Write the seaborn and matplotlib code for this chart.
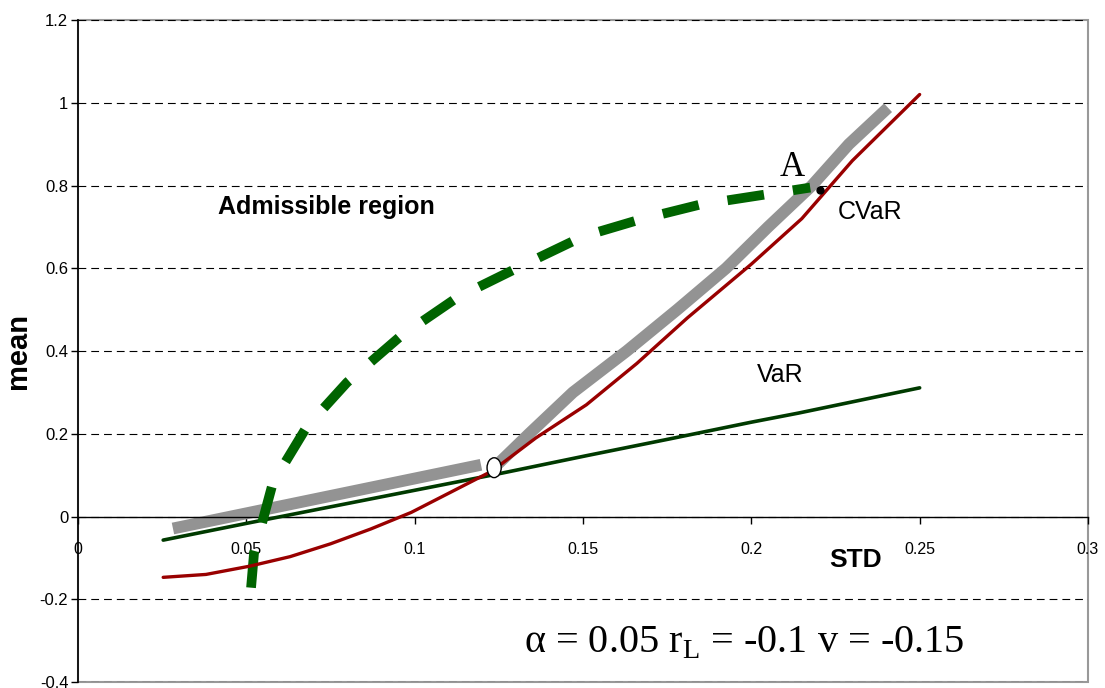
import matplotlib
matplotlib.use("Agg")
import matplotlib.pyplot as plt
from matplotlib.patches import Ellipse
import seaborn as sns

sns.set_theme(style="white")
plt.rcParams['font.family'] = ['Liberation Sans', 'DejaVu Sans']
plt.rcParams['mathtext.fontset'] = 'custom'
plt.rcParams['mathtext.rm'] = 'Liberation Serif'
plt.rcParams['text.color'] = 'black'
plt.rcParams['axes.labelcolor'] = 'black'

# CVaR frontier (dark red)
cvar_x = [0.0253, 0.038, 0.051, 0.063, 0.075, 0.087, 0.099, 0.111, 0.123,
          0.136, 0.151, 0.166, 0.181, 0.2, 0.215, 0.23, 0.25]
cvar_y = [-0.147, -0.14, -0.12, -0.097, -0.066, -0.03, 0.01, 0.06, 0.11,
          0.19, 0.27, 0.37, 0.48, 0.61, 0.72, 0.86, 1.02]

# VaR frontier (dark green)
var_x = [0.0253, 0.051, 0.076, 0.101, 0.126, 0.151, 0.176, 0.2, 0.214, 0.25]
var_y = [-0.057, -0.015, 0.025, 0.065, 0.105, 0.147, 0.188, 0.228, 0.25, 0.311]

# efficient part (thick grey), two pieces
eff1_x = [0.0282, 0.1197]
eff1_y = [-0.029, 0.125]
eff2_x = [0.1236, 0.134, 0.147, 0.163, 0.178, 0.1925, 0.205, 0.218, 0.229, 0.2406]
eff2_y = [0.118, 0.2, 0.3, 0.4, 0.5, 0.6, 0.7, 0.8, 0.9, 0.988]

# boundary of admissible region (dashed green)
adm_x = [0.0514, 0.0523, 0.0579, 0.068, 0.0799, 0.0957, 0.1126, 0.1313, 0.15,
         0.167, 0.1848, 0.2175]
adm_y = [-0.172, -0.087, 0.082, 0.2175, 0.324, 0.435, 0.529, 0.604, 0.677,
         0.718, 0.754, 0.795]

switch_pt = (0.1236, 0.118)
a_pt = (0.2204, 0.788)

xticks = [0, 0.05, 0.1, 0.15, 0.2, 0.25, 0.3]
xlabels = ["0", "0.05", "0.1", "0.15", "0.2", "0.25", "0.3"]
yticks = [-0.4, -0.2, 0, 0.2, 0.4, 0.6, 0.8, 1.0, 1.2]
ylabels = ["-0.4", "-0.2", "0", "0.2", "0.4", "0.6", "0.8", "1", "1.2"]

fig = plt.figure(figsize=(11.05, 6.88), dpi=100)
ax = fig.add_axes([0.0706, 0.0087, 0.914, 0.9622])

sns.lineplot(x=eff1_x, y=eff1_y, ax=ax, sort=False, estimator=None,
             color='#939393', linewidth=8.5, solid_capstyle='butt', zorder=2)
sns.lineplot(x=eff2_x, y=eff2_y, ax=ax, sort=False, estimator=None,
             color='#939393', linewidth=8.5, solid_capstyle='butt', zorder=2)
sns.lineplot(x=var_x, y=var_y, ax=ax, sort=False, estimator=None,
             color='#003a00', linewidth=2.6, solid_capstyle='round', zorder=3)
sns.lineplot(x=cvar_x, y=cvar_y, ax=ax, sort=False, estimator=None,
             color='#990000', linewidth=2.4, solid_capstyle='round', zorder=4)
sns.lineplot(x=adm_x, y=adm_y, ax=ax, sort=False, estimator=None,
             color='#006400', linewidth=7, linestyle=(0, (3.8, 3.0)), zorder=3)

ax.plot([a_pt[0]], [a_pt[1]], 'o', color='black', markersize=5, zorder=5)
ax.add_patch(Ellipse(switch_pt, 0.0042, 0.048, facecolor='white',
                     edgecolor='black', linewidth=1, zorder=6))

ax.set_xlim(0, 0.3)
ax.set_ylim(-0.4, 1.2)
ax.set_xticks(xticks)
ax.set_xticklabels(xlabels)
ax.set_yticks(yticks)
ax.set_yticklabels(ylabels)

ax.spines['bottom'].set_position(('data', 0))
ax.spines['bottom'].set_color('black')
ax.spines['bottom'].set_linewidth(1)
ax.spines['left'].set_color('black')
ax.spines['left'].set_linewidth(1.2)
ax.spines['top'].set_visible(False)
ax.spines['right'].set_visible(False)
ax.patch.set_edgecolor('#999999')
ax.patch.set_linewidth(1.5)

ax.yaxis.grid(True, linestyle=(0, (7, 4.5)), color='black', linewidth=0.8)
ax.xaxis.grid(False)
ax.tick_params(axis='x', direction='out', length=5, width=1, pad=13,
               labelsize=11.5, colors='black', bottom=True)
ax.tick_params(axis='y', direction='out', length=5, width=1, pad=2,
               labelsize=12, colors='black', left=True)

ax.set_xlabel("")
ax.set_ylabel("mean", fontsize=21, fontweight='bold')
ax.yaxis.set_label_coords(-0.046, 0.5)

ax.text(0.0416, 0.747, "Admissible region", fontsize=18, fontweight='bold',
        ha='left', va='center')
ax.text(0.2258, 0.737, "CVaR", fontsize=18, ha='left', va='center')
ax.text(0.2017, 0.343, "VaR", fontsize=18, ha='left', va='center')
ax.text(0.212, 0.8435, "A", fontsize=25, family='Liberation Serif',
        ha='center', va='center')
ax.text(0.2311, -0.104, "STD", fontsize=19, fontweight='bold',
        ha='center', va='center')
ax.text(0.1325, -0.3045, r"α = 0.05 r$_{\mathrm{L}}$ = -0.1 v = -0.15",
        fontsize=29, family='Liberation Serif', ha='left', va='center')

fig.savefig("out.png", dpi=100)
